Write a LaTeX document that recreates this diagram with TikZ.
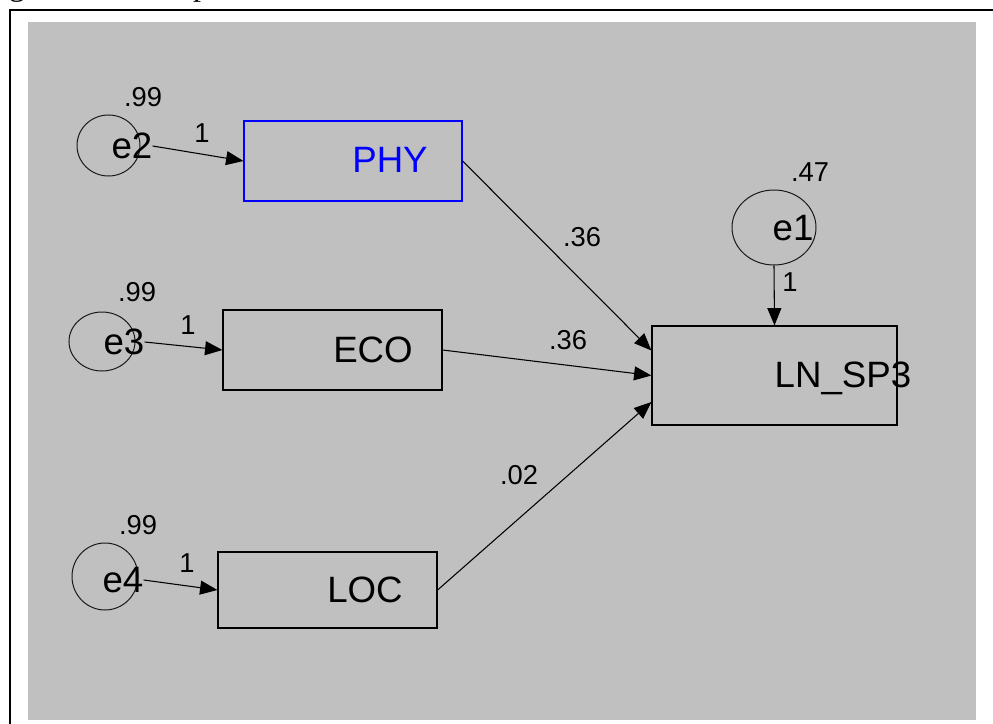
\documentclass[tikz,border=0pt]{standalone}
\usepackage{fontspec}
\setmainfont{Liberation Sans}
\newfontfamily\capserif{Liberation Serif}
\usetikzlibrary{arrows.meta,shapes.geometric}
\definecolor{amosgray}{RGB}{192,192,192}
\definecolor{amosblue}{RGB}{0,0,255}
\begin{document}
\begin{tikzpicture}[x=0.75pt,y=-0.75pt,
  obsbox/.style={draw=black,line width=0.9pt,rectangle,inner sep=0pt},
  errvar/.style={draw=black!90,line width=0.75pt,ellipse,inner sep=0pt},
  bigtxt/.style={inner sep=0pt,font=\fontsize{27.5}{27.5}\selectfont},
  smalltxt/.style={inner sep=0pt,font=\fontsize{20.5}{20.5}\selectfont},
  regpath/.style={draw=black,line width=0.8pt,-{Triangle[length=13pt,width=10.5pt]}}]
\useasboundingbox (0,0) rectangle (993,724);
\fill[white] (0,0) rectangle (993,724);
\begin{scope}
\clip (0,0) rectangle (993,724);
\node[inner sep=0pt,anchor=base,font=\capserif\fontsize{24}{24}\selectfont] (capg) at (17,-4) {g};
\node[inner sep=0pt,anchor=base,font=\capserif\fontsize{24}{24}\selectfont] (capp) at (201,-4) {p};
\draw[line width=2.2pt] (10,740) -- (10,10) -- (1010,10);
\end{scope}
\fill[amosgray] (28,22) rectangle (976,720);

% observed variables
\node[obsbox,draw=amosblue,minimum width={218*0.75pt},minimum height={80*0.75pt}] (PHY) at (353,161) {};
\node[obsbox,minimum width={219*0.75pt},minimum height={80*0.75pt}] (ECO) at (332.5,350) {};
\node[obsbox,minimum width={219*0.75pt},minimum height={76*0.75pt}] (LOC) at (327.5,590) {};
\node[obsbox,minimum width={245*0.75pt},minimum height={99*0.75pt}] (LN) at (774.5,375.5) {};
\node[bigtxt,text=amosblue] (PHYt) at (390,160) {PHY};
\node[bigtxt] (ECOt) at (373,350) {ECO};
\node[bigtxt] (LOCt) at (365,590) {LOC};
\node[bigtxt,text depth=0pt] (LNt) at (843,375) {LN\_SP3};

% error variables
\node[errvar,minimum width={63*0.75pt},minimum height={61*0.75pt}] (e2) at (108.5,145.5) {};
\node[errvar,minimum width={66*0.75pt},minimum height={59*0.75pt}] (e3) at (102,341.5) {};
\node[errvar,minimum width={66*0.75pt},minimum height={67*0.75pt}] (e4) at (105,576.5) {};
\node[errvar,minimum width={84*0.75pt},minimum height={75*0.75pt}] (e1) at (774,227.5) {};
\node[bigtxt] (e2t) at (132,146) {e2};
\node[bigtxt] (e3t) at (124,342) {e3};
\node[bigtxt] (e4t) at (123,580) {e4};
\node[bigtxt] (e1t) at (793,228) {e1};

% variances
\node[smalltxt] (v2) at (143,97) {.99};
\node[smalltxt] (v3) at (137,292) {.99};
\node[smalltxt] (v4) at (138,525) {.99};
\node[smalltxt] (v1) at (810,172) {.47};

% paths
\draw[regpath] (e2t.east) -- (PHY.west);
\draw[regpath] (e3t.east) -- (ECO.west);
\draw[regpath] (e4t.east) -- (LOC.west);
\draw[regpath] (e1.south) -- (LN.north);
\draw[regpath] (PHY.east) -- ([yshift={25*0.75pt}]LN.west);
\draw[regpath] (ECO.east) -- (LN.west);
\draw[regpath] (LOC.east) -- ([yshift={-26.5*0.75pt}]LN.west);

% path labels
\node[smalltxt] (w2) at (202,133) {1};
\node[smalltxt] (w3) at (188,325) {1};
\node[smalltxt] (w4) at (187,563) {1};
\node[smalltxt] (w1) at (790,282) {1};
\node[smalltxt] (p1) at (582,237) {.36};
\node[smalltxt] (p2) at (568,340) {.36};
\node[smalltxt] (p3) at (519,475) {.02};
\end{tikzpicture}
\end{document}
